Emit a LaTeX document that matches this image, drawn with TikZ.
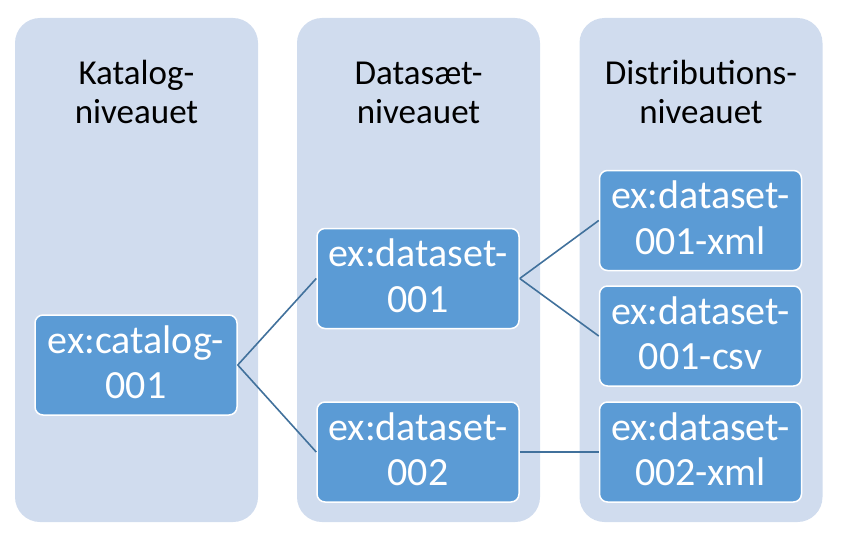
\documentclass[tikz,border=0pt]{standalone}
\usepackage{fontspec}
\setmainfont{Carlito}
\definecolor{colbg}{HTML}{D0DCEE}
\definecolor{boxfill}{HTML}{5B9BD5}
\definecolor{connline}{HTML}{41719C}
\newcommand\mytopstrut{\rule{0pt}{30pt}}
\newcommand\mybotstrut{\rule[-8pt]{0pt}{8pt}}
\tikzset{
  column/.style={fill=colbg, rounded corners=25pt, minimum width=243pt, minimum height=504pt, inner sep=0pt, draw=none},
  header/.style={align=center, inner sep=0pt, text=black, font=\fontsize{35}{39}\selectfont},
  itembox/.style={fill=boxfill, draw=white, line width=1.5pt, rounded corners=8pt, minimum width=202pt, minimum height=100pt, inner sep=0pt, align=center, text=white, font=\fontsize{40}{45.5}\selectfont},
  conn/.style={draw=connline, line width=1.6pt}
}
\begin{document}
\begin{tikzpicture}[x=1pt,y=-1pt]
\useasboundingbox (0,0) rectangle (841,535);
\node[column] (c1) at (136.5,270) {};
\node[column] (c2) at (418.5,270) {};
\node[column] (c3) at (701,270) {};
\node[header] (h1) at (136.5,95.7) {\strut Katalog-\\\strut niveauet};
\node[header] (h2) at (418.5,95.7) {\strut Datasæt-\\\strut niveauet};
\node[header] (h3) at (701,95.7) {\strut Distributions-\\\strut niveauet};
\node[itembox] (cat) at (136,365) {\mytopstrut ex:catalog-\\001\mybotstrut};
\node[itembox] (ds1) at (418,278.5) {\mytopstrut ex:dataset-\\001\mybotstrut};
\node[itembox] (ds2) at (418,452) {\mytopstrut ex:dataset-\\002\mybotstrut};
\node[itembox] (d1) at (700.5,220.5) {\mytopstrut ex:dataset-\\001-xml\mybotstrut};
\node[itembox] (d2) at (700.5,336) {\mytopstrut ex:dataset-\\001-csv\mybotstrut};
\node[itembox] (d3) at (700.5,452) {\mytopstrut ex:dataset-\\002-xml\mybotstrut};
\draw[conn] (cat.east) -- (ds1.west);
\draw[conn] (cat.east) -- (ds2.west);
\draw[conn] (ds1.east) -- (d1.west);
\draw[conn] (ds1.east) -- (d2.west);
\draw[conn] (ds2.east) -- (d3.west);
\end{tikzpicture}
\end{document}
